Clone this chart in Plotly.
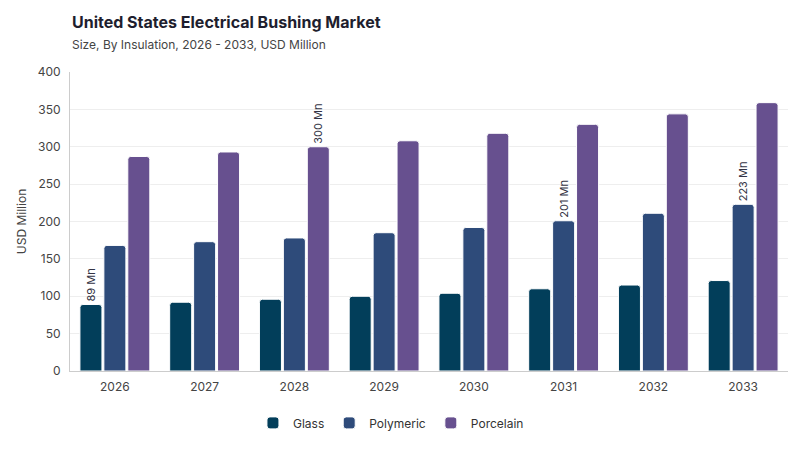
import plotly.graph_objects as go

years = ["2026", "2027", "2028", "2029", "2030", "2031", "2032", "2033"]
glass = [89, 92, 96, 100, 104, 110, 115, 121]
polymeric = [168, 173, 178, 185, 192, 201, 211, 223]
porcelain = [287, 293, 300, 308, 318, 330, 344, 359]

# labels shown only on some bars
glass_lbl = ["89 Mn", "", "", "", "", "", "", ""]
poly_lbl = ["", "", "", "", "", "201 Mn", "", "223 Mn"]
porc_lbl = ["", "", "300 Mn", "", "", "", "", ""]

colors = {"Glass": "#023e5a", "Polymeric": "#2e4b7a", "Porcelain": "#67508f"}

fig = go.Figure()
for name, vals, lbl in [("Glass", glass, glass_lbl),
                        ("Polymeric", polymeric, poly_lbl),
                        ("Porcelain", porcelain, porc_lbl)]:
    fig.add_trace(go.Bar(
        x=years, y=vals, name=name, text=lbl,
        textposition="outside", textangle=-90,
        textfont=dict(size=11, color="#333344", family="Inter"),
        marker=dict(color=colors[name], line=dict(color="white", width=1)),
        cliponaxis=False,
    ))

fig.update_layout(
    width=800, height=450,
    barmode="group", bargap=0.2, bargroupgap=0.08,
    barcornerradius=3,
    plot_bgcolor="white", paper_bgcolor="white",
    font=dict(family="Inter", color="#444444", size=12),
    margin=dict(l=62, r=20, t=64, b=87),
    title=dict(
        text="<b>United States Electrical Bushing Market</b><br>"
             "<span style='font-size:12px;color:#444'>Size, By Insulation, 2026 - 2033, USD Million</span>",
        x=0.08, xanchor="left", y=0.955, yanchor="top",
        font=dict(size=16, color="#1e1e2e", family="Inter"),
    ),
    legend=dict(orientation="h", x=0.447, xanchor="center", y=-0.125, yanchor="top",
                font=dict(size=12, color="#333333"), itemwidth=30),
    uniformtext=dict(minsize=10, mode="show"),
)
fig.update_yaxes(range=[0, 400], dtick=50, showgrid=True, gridcolor="#eeeeee",
                 showline=True, linecolor="#cccccc", ticks="", ticklabelstandoff=6,
                 title=dict(text="USD Million", font=dict(size=12, color="#444444"), standoff=8),
                 tickfont=dict(size=12, color="#444444"), zeroline=False)
fig.update_xaxes(showline=True, linecolor="#cccccc", ticks="", ticklabelstandoff=5,
                 tickfont=dict(size=12, color="#444444"))

fig.write_html("out.html")
